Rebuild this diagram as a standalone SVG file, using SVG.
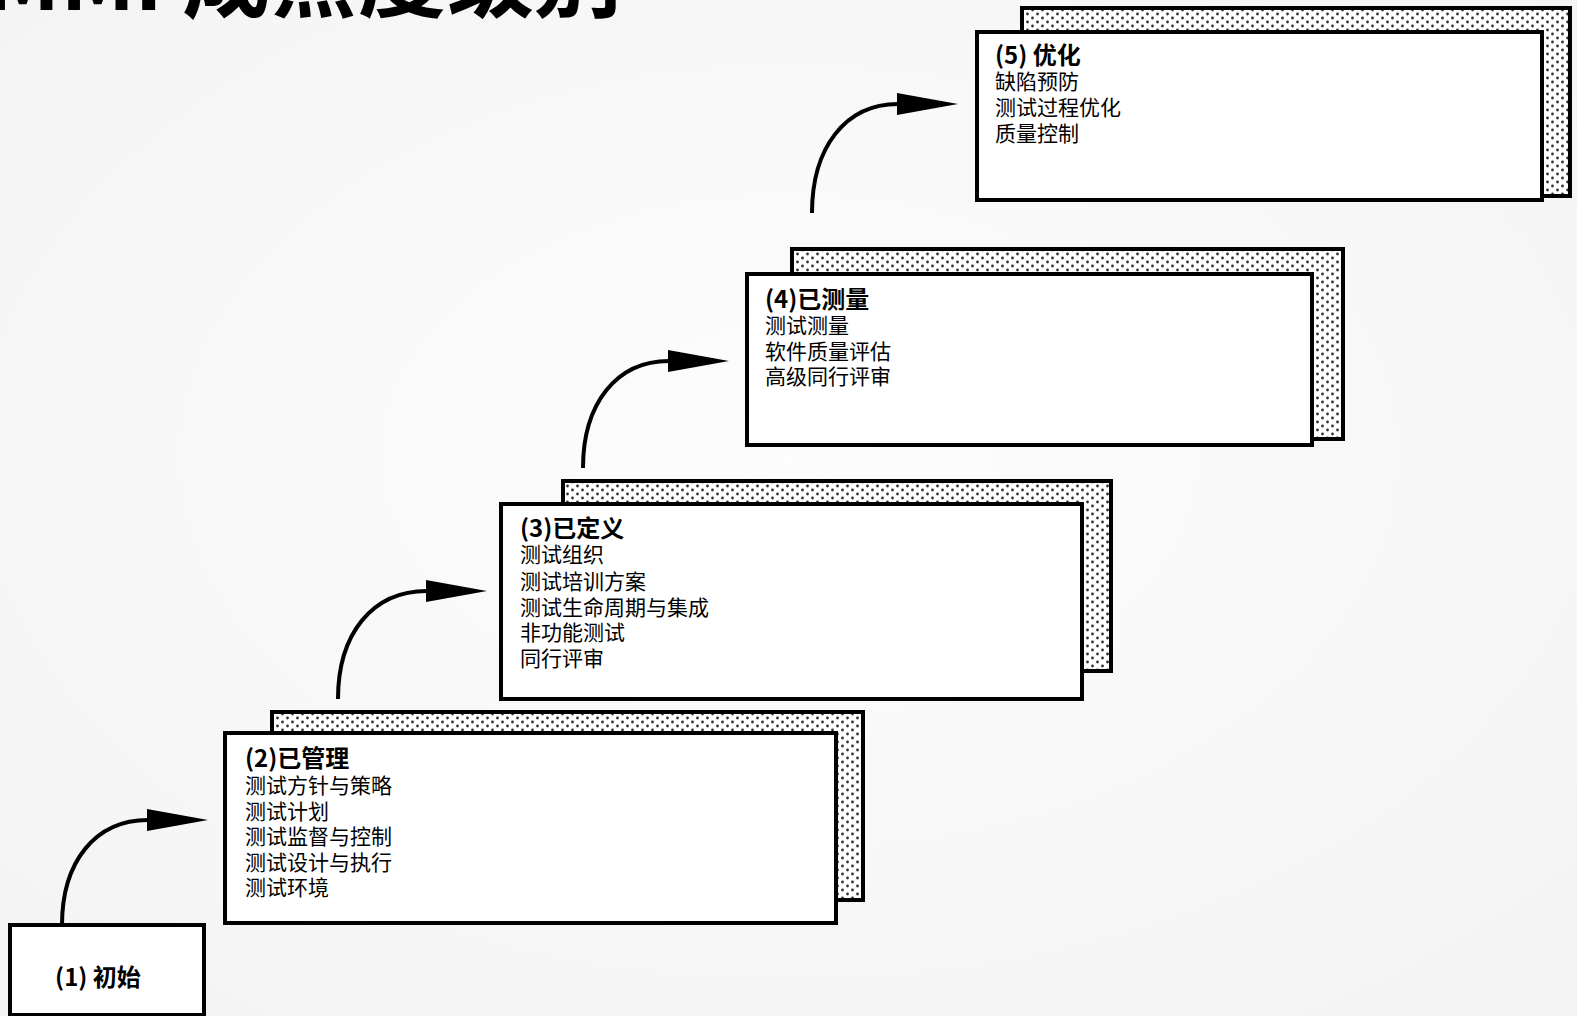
<svg xmlns="http://www.w3.org/2000/svg" width="1577" height="1016" viewBox="0 0 1577 1016">
<defs>
<radialGradient id="bg" cx="0.5" cy="0.45" r="0.8">
<stop offset="0" stop-color="#fdfdfd"/>
<stop offset="1" stop-color="#f2f2f2"/>
</radialGradient>
<pattern id="dots" width="10" height="8" patternUnits="userSpaceOnUse">
<rect width="10" height="8" fill="#ffffff"/>
<circle cx="2.5" cy="2" r="1.4" fill="#333"/>
<circle cx="7.5" cy="6" r="1.4" fill="#333"/>
</pattern>
<marker id="head" markerUnits="userSpaceOnUse" markerWidth="62" markerHeight="24" viewBox="0 0 62 24" refX="1" refY="12" orient="auto">
<path d="M0,1 L61,12 L0,23 z" fill="#000"/>
</marker>
<style>
.shadow{fill:url(#dots);stroke:#000;stroke-width:4}
.front{fill:#fff;stroke:#000;stroke-width:4}
.h{font-family:"Noto Sans CJK SC","Noto Sans",sans-serif;font-size:24px;font-weight:bold;fill:#000}
.t{font-family:"Noto Sans CJK SC","Noto Sans",sans-serif;font-size:21px;fill:#000}
.title{font-family:"Noto Sans CJK SC","Noto Sans",sans-serif;font-size:88px;font-weight:bold;fill:#000}
.arrow{fill:none;stroke:#000;stroke-width:4;marker-end:url(#head)}
</style>
</defs>
<rect width="1577" height="1016" fill="url(#bg)"/>
<text class="title" x="622" y="10" text-anchor="end">TMMi 成熟度级别</text>

<g id="connectors">
<path class="arrow" d="M62,925 C62,862 95,820 148,820"/>
<path class="arrow" d="M338,699 C338,634 372,591 427,591"/>
<path class="arrow" d="M583,468 C583,404 616,361 669,361"/>
<path class="arrow" d="M812,213 C812,148 845,104 898,104"/>
</g>

<g id="node1">
<rect class="front" x="10" y="925" width="194" height="90"/>
<text class="h" x="98" y="986" text-anchor="middle">(1) 初始</text>
</g>

<g id="node2">
<rect class="shadow" x="272" y="712" width="591" height="188"/>
<rect class="front" x="225" y="733" width="611" height="190"/>
<text class="h" x="245" y="767">(2)已管理</text>
<text class="t" x="245" y="793">测试方针与策略</text>
<text class="t" x="245" y="818.5">测试计划</text>
<text class="t" x="245" y="844">测试监督与控制</text>
<text class="t" x="245" y="869.5">测试设计与执行</text>
<text class="t" x="245" y="895">测试环境</text>
</g>

<g id="node3">
<rect class="shadow" x="563" y="481" width="548" height="190"/>
<rect class="front" x="501" y="504" width="581" height="195"/>
<text class="h" x="520" y="537">(3)已定义</text>
<text class="t" x="520" y="562">测试组织</text>
<text class="t" x="520" y="588.5">测试培训方案</text>
<text class="t" x="520" y="614.5">测试生命周期与集成</text>
<text class="t" x="520" y="640">非功能测试</text>
<text class="t" x="520" y="666">同行评审</text>
</g>

<g id="node4">
<rect class="shadow" x="792" y="249" width="551" height="190"/>
<rect class="front" x="747" y="274" width="565" height="171"/>
<text class="h" x="765" y="308">(4)已测量</text>
<text class="t" x="765" y="333">测试测量</text>
<text class="t" x="765" y="358.5">软件质量评估</text>
<text class="t" x="765" y="384">高级同行评审</text>
</g>

<g id="node5">
<rect class="shadow" x="1022" y="8" width="548" height="188"/>
<rect class="front" x="977" y="32" width="565" height="168"/>
<text class="h" x="995" y="64">(5) 优化</text>
<text class="t" x="995" y="89">缺陷预防</text>
<text class="t" x="995" y="115">测试过程优化</text>
<text class="t" x="995" y="140.5">质量控制</text>
</g>
</svg>
